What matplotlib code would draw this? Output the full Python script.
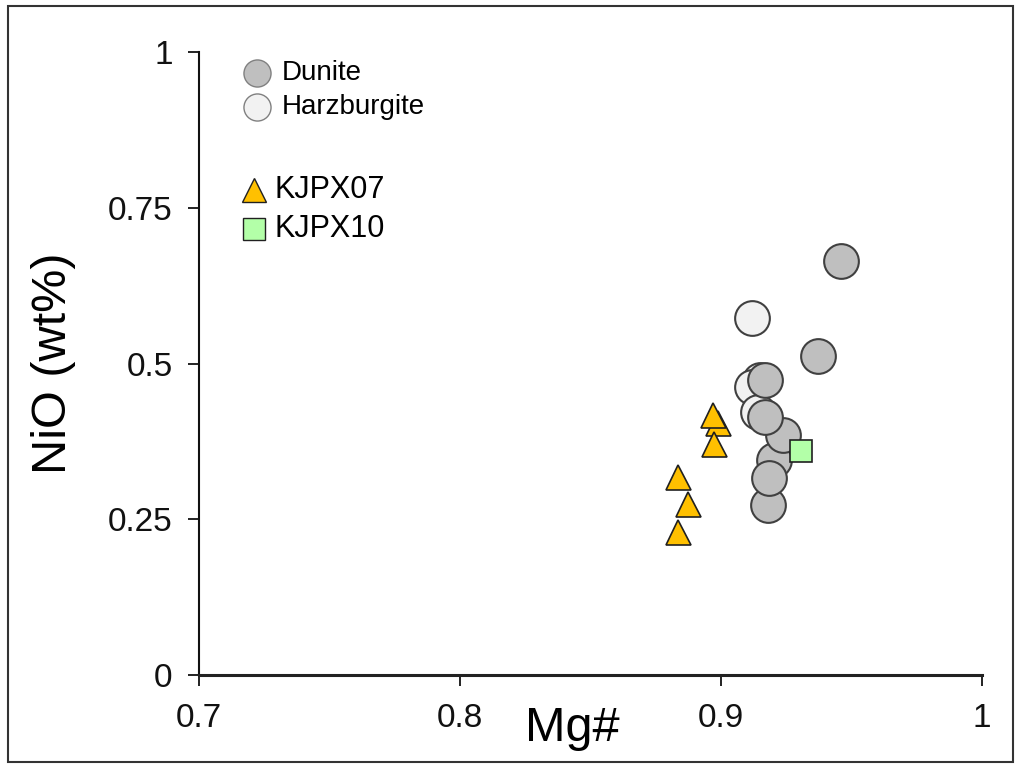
import matplotlib
matplotlib.use("Agg")
import matplotlib.pyplot as plt
from matplotlib.patches import Rectangle

plt.rcParams['font.family'] = ['Liberation Sans', 'DejaVu Sans']

# Data
harz_mg = [0.9118, 0.9150, 0.9120, 0.9140]
harz_nio = [0.5725, 0.4740, 0.4630, 0.4226]

dunite_mg = [0.9179, 0.9203, 0.9185, 0.9239, 0.9169, 0.9169, 0.9370, 0.9460]
dunite_nio = [0.273, 0.345, 0.3157, 0.385, 0.4146, 0.4735, 0.5125, 0.665]

kjpx07_mg = [0.8987, 0.8970, 0.8975, 0.8836, 0.8872, 0.8834]
kjpx07_nio = [0.405, 0.4177, 0.370, 0.318, 0.274, 0.229]

kjpx10_mg = [0.9307]
kjpx10_nio = [0.359]

xticks = [0.7, 0.8, 0.9, 1.0]
xticklabels = ["0.7", "0.8", "0.9", "1"]
yticks = [0, 0.25, 0.5, 0.75, 1.0]
yticklabels = ["0", "0.25", "0.5", "0.75", "1"]

W, H = 1020, 768
fig = plt.figure(figsize=(W / 100, H / 100), dpi=100)
ax = fig.add_axes([199 / W, (H - 675) / H, (982 - 199) / W, (675 - 52) / H])

edge = "#404040"
ax.plot(harz_mg, harz_nio, 'o', ms=25, mfc="#f2f2f2", mec=edge, mew=1.5, ls='none', clip_on=False, zorder=3)
ax.plot(dunite_mg, dunite_nio, 'o', ms=25, mfc="#bfbfbf", mec=edge, mew=1.5, ls='none', clip_on=False, zorder=4)
ax.plot(kjpx07_mg, kjpx07_nio, '^', ms=18, mfc="#ffc000", mec="#202020", mew=1.2, ls='none', clip_on=False, zorder=5)
ax.plot(kjpx10_mg, kjpx10_nio, 's', ms=16.5, mfc="#b3ffa8", mec="#202020", mew=1.2, ls='none', clip_on=False, zorder=6)

ax.set_xlim(0.7, 1.0)
ax.set_ylim(0, 1.0)
ax.set_xticks(xticks)
ax.set_xticklabels(xticklabels)
ax.set_yticks(yticks)
ax.set_yticklabels(yticklabels)
ax.tick_params(axis='both', direction='out', length=8, width=1.3, labelsize=24, colors="#111111")
ax.tick_params(axis='x', pad=12)
ax.tick_params(axis='y', pad=11)
for s in ['top', 'right']:
    ax.spines[s].set_visible(False)
ax.spines['left'].set_linewidth(1.5)
ax.spines['bottom'].set_linewidth(2.2)
ax.spines['left'].set_color("#111111")
ax.spines['bottom'].set_color("#222222")

ax.set_ylabel("NiO (wt%)", fontsize=35)
ax.yaxis.set_label_coords(-0.157, 0.5)
ax.set_xlabel("Mg#", fontsize=35)
ax.xaxis.set_label_coords(0.477, -0.086)
ax.xaxis.label.set_verticalalignment('center')

# Legend (manual)
T = ax.transAxes
ax.plot([0.074], [0.966], 'o', ms=19.5, mfc="#bfbfbf", mec="#808080", mew=1.0, transform=T, clip_on=False)
ax.text(0.106, 0.966, "Dunite", fontsize=20, va='center', ha='left', transform=T)
ax.plot([0.074], [0.912], 'o', ms=19.5, mfc="#f2f2f2", mec="#808080", mew=1.0, transform=T, clip_on=False)
ax.text(0.106, 0.912, "Harzburgite", fontsize=20, va='center', ha='left', transform=T)
ax.plot([0.070], [0.778], '^', ms=17, mfc="#ffc000", mec="#202020", mew=1.0, transform=T, clip_on=False)
ax.text(0.097, 0.778, "KJPX07", fontsize=22, va='center', ha='left', transform=T)
ax.plot([0.070], [0.716], 's', ms=16, mfc="#b3ffa8", mec="#202020", mew=1.0, transform=T, clip_on=False)
ax.text(0.097, 0.716, "KJPX10", fontsize=22, va='center', ha='left', transform=T)

# outer frame
fig.patches.append(Rectangle((8 / W, 6 / H), (1013 - 8) / W, (762 - 6) / H, transform=fig.transFigure,
                             fill=False, edgecolor="#333333", linewidth=1.5))

fig.savefig("out.png", dpi=100)
